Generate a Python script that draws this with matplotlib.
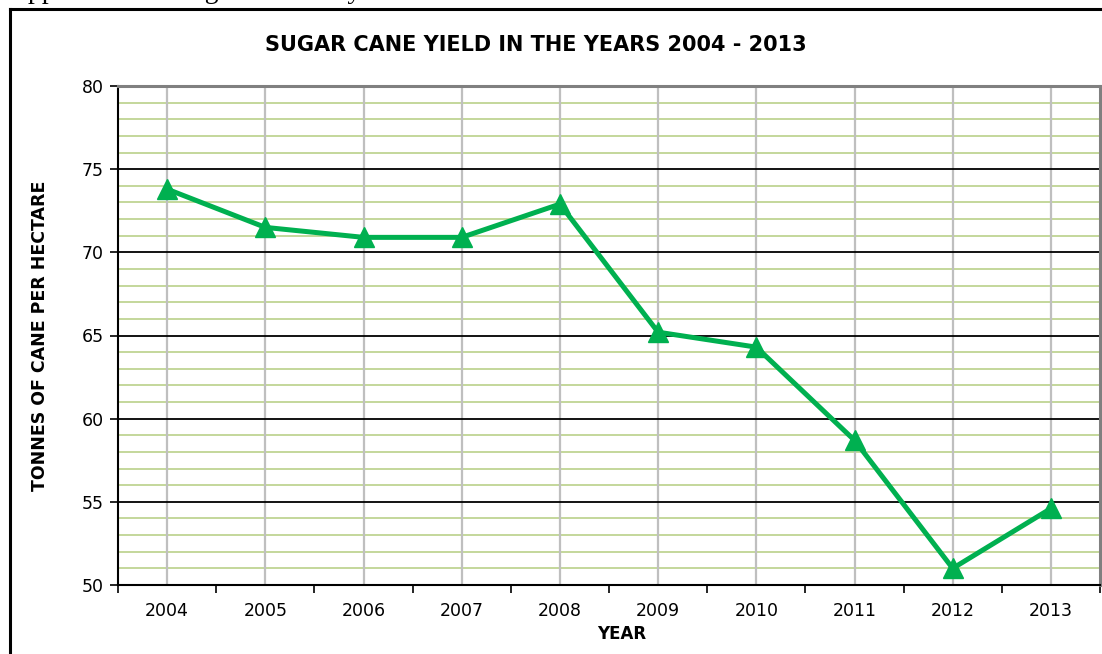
# sugar_cane_yield.py
# Line chart of sugar cane yield (tonnes of cane per hectare), 2004 - 2013

import numpy as np
import matplotlib.pyplot as plt
from matplotlib.lines import Line2D

years = ['2004', '2005', '2006', '2007', '2008', '2009', '2010', '2011', '2012', '2013']
tonnes_per_ha = [73.8, 71.5, 70.9, 70.9, 72.9, 65.2, 64.3, 58.7, 51.0, 54.6]
y_ticks = [50, 55, 60, 65, 70, 75, 80]

plt.rcParams['font.family'] = ['DejaVu Sans']

W, H = 1102, 654
fig = plt.figure(figsize=(W / 100, H / 100), dpi=100)
ax = fig.add_axes([118 / W, 1 - 585 / H, (1100 - 118) / W, (585 - 86) / H])

x = np.arange(len(years))

# minor green gridlines every tonne, black every five
for v in range(50, 81):
    if v % 5 == 0:
        continue
    ax.axhline(v, color='#C4D79B', lw=1.4, zorder=1)
for v in y_ticks[1:-1]:
    ax.axhline(v, color='black', lw=1.3, zorder=2)
for xi in x:
    ax.axvline(xi, color='#BFBFBF', lw=1.6, zorder=1)

ax.plot(x, tonnes_per_ha, color='#00B050', lw=3.6, marker='^', markersize=15,
        zorder=5, clip_on=False)

ax.set_xlim(-0.5, len(years) - 0.5)
ax.set_ylim(50, 80)

# category ticks sit on the boundaries, labels in the middle
ax.set_xticks(np.arange(-0.5, len(years)), minor=False)
ax.set_xticklabels([])
ax.set_xticks(x, minor=True)
ax.set_xticklabels(years, minor=True, fontsize=12.5)
ax.tick_params(axis='x', which='major', length=6, width=1.2, direction='out')
ax.tick_params(axis='x', which='minor', length=0, pad=12)
ax.set_yticks(y_ticks)
ax.set_yticklabels([str(v) for v in y_ticks], fontsize=12.5)
ax.tick_params(axis='y', length=6, width=1.2, direction='out', pad=4)

ax.spines['left'].set_color('black')
ax.spines['left'].set_linewidth(1.5)
ax.spines['bottom'].set_color('black')
ax.spines['bottom'].set_linewidth(1.5)
ax.spines['top'].set_color('#808080')
ax.spines['top'].set_linewidth(2.2)
ax.spines['right'].set_color('#808080')
ax.spines['right'].set_linewidth(2.2)
for s in ax.spines.values():
    s.set_zorder(6)

fig.text(536 / W, 1 - 45 / H, 'SUGAR CANE YIELD IN THE YEARS 2004 - 2013',
         ha='center', va='center', fontsize=15, fontweight='bold')
fig.text(40 / W, 1 - 336 / H, 'TONNES OF CANE PER HECTARE', rotation=90,
         ha='center', va='center', fontsize=12.5, fontweight='bold')
fig.text(622 / W, 1 - 634 / H, 'YEAR', ha='center', va='center',
         fontsize=12, fontweight='bold')

# frame around the chart (top and left edges fall inside the page)
fig.add_artist(Line2D([10 / W, 10 / W], [-0.01, 1 - 9 / H], color='black',
                      lw=2.2, transform=fig.transFigure))
fig.add_artist(Line2D([10 / W, 1.01], [1 - 9 / H, 1 - 9 / H], color='black',
                      lw=2.2, transform=fig.transFigure))
# line of body text above the frame, only its descenders fall on the page
fig.text(8 / W, 1 + 2 / H, 'Appendix showing the annual yield',
         family=['Liberation Serif'], fontsize=20, va='baseline')

fig.savefig('out.png', dpi=100)
